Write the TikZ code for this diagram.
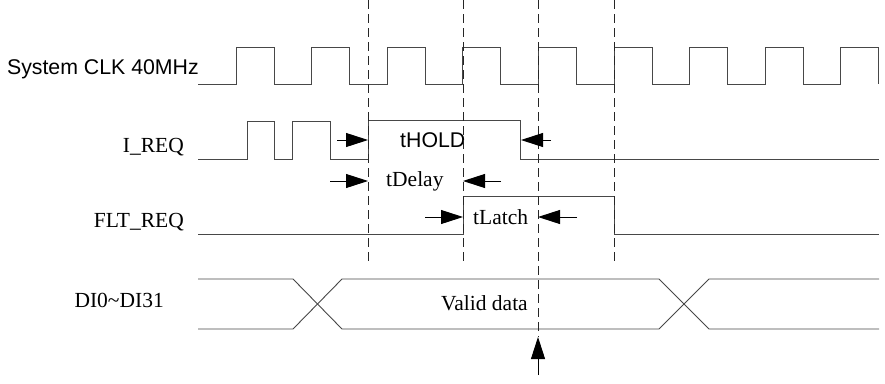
\documentclass[tikz,border=0pt]{standalone}
\usepackage{fontspec}
\setmainfont{Liberation Serif}
\setsansfont{Liberation Sans}
\usepackage{xcolor}
\usetikzlibrary{arrows.meta}

\begin{document}
\begin{tikzpicture}[x=1pt,y=-1pt]
		\useasboundingbox (0,0) rectangle (885,383);
		\tikzstyle{wave}=[draw=black!72,line width=0.9pt]
		\tikzstyle{guide}=[draw=black!85,line width=0.8pt,dash pattern=on 9pt off 5pt]
		\tikzstyle{every node}+=[inner sep=0pt,font=\fontsize{21.5}{25}\selectfont]
		% signal names
		\node[anchor=base east,font=\sffamily\fontsize{21.3}{25}\selectfont] (clk) at (199,74) {System CLK 40MHz};
		\node[anchor=base east] (ireq) at (184,152.7) {I\_REQ};
		\node[anchor=base east] (flt) at (184,227.7) {FLT\_REQ};
		\node[anchor=base east] (di) at (164,307.7) {DI0\textasciitilde DI31};
		% timing labels
		\node[anchor=base west,font=\sffamily\fontsize{21.3}{25}\selectfont] (hold) at (400,147.7) {tHOLD};
		\node[anchor=base west] (delay) at (386,186.7) {tDelay};
		\node[anchor=base west] (latch) at (473,224) {tLatch};
		\node[anchor=base west] (valid) at (441,310.7) {Valid data};
		% waveforms
		\draw[wave] (198,84) \foreach \k in {0,...,8}{
			-- ({236+75.6*\k},84) -- ({236+75.6*\k},47)
			-- ({274+75.6*\k},47) -- ({274+75.6*\k},84)};
		\draw[wave] (198,159) -- (247,159) -- (247,121) -- (274,121) -- (274,159)
			-- (292,159) -- (292,121) -- (330,121) -- (330,159) -- (368,159)
			-- (368,120) -- (520,120) -- (520,159) -- (879,159);
		\draw[wave] (198,234) -- (463,234) -- (463,196) -- (614,196) -- (614,234) -- (879,234);
		\draw[wave] (198,279) -- (293,279) -- (342,329) -- (659,329) -- (709,279) -- (879,279);
		\draw[wave] (198,329) -- (293,329) -- (342,279) -- (659,279) -- (709,329) -- (879,329);
		% dashed guides
		\draw[guide] (368,0) -- (368,265);
		\draw[guide] (463,0) -- (463,265);
		\draw[guide] (538,0) -- (538,337);
		\draw[guide] (614,0) -- (614,265);
		% arrow ends
		\coordinate (h1) at (337,140);  \coordinate (h2) at (368,140);
		\coordinate (h3) at (551,140);  \coordinate (h4) at (521,140);
		\coordinate (d1) at (330,181);  \coordinate (d2) at (368,181);
		\coordinate (d3) at (501,181);  \coordinate (d4) at (463,181);
		\coordinate (l1) at (425,217);  \coordinate (l2) at (463,217);
		\coordinate (l3) at (577,217);  \coordinate (l4) at (538,217);
		\coordinate (s1) at (538,375);  \coordinate (s2) at (538,337);
		\tikzstyle{every edge}+=[-{Triangle[length=22pt,width=14pt]},line width=0.9pt]
		\draw (h1) edge (h2) (h3) edge (h4)
		(d1) edge (d2) (d3) edge (d4)
		(l1) edge (l2) (l3) edge (l4)
		(s1) edge (s2);
\end{tikzpicture}
\end{document}
